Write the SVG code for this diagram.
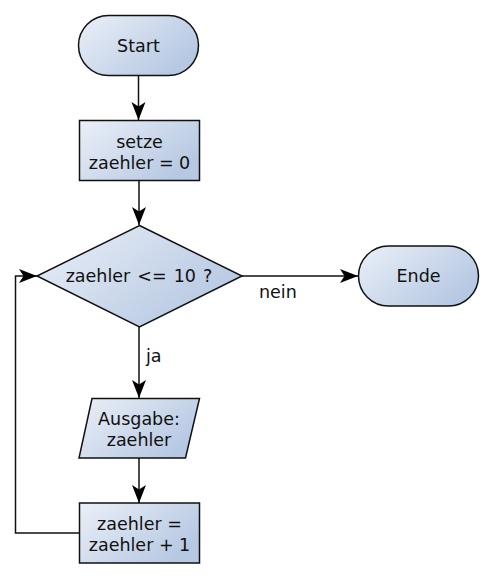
<svg xmlns="http://www.w3.org/2000/svg" width="493" height="579" viewBox="0 0 493 579">
<style>
.shape{fill:url(#g);stroke:#111;stroke-width:1.5}
.t{font-family:"DejaVu Sans",sans-serif;font-size:17.5px;fill:#111;text-anchor:middle}
.l{font-family:"DejaVu Sans",sans-serif;font-size:17.5px;fill:#111}
.c{fill:none;stroke:#111;stroke-width:1.5}
</style>
<defs>
<linearGradient id="g" x1="0" y1="0" x2="1" y2="0.6">
<stop offset="0" stop-color="#ebf0f8"/>
<stop offset="1" stop-color="#b6c8e2"/>
</linearGradient>
<marker id="a" markerUnits="userSpaceOnUse" markerWidth="20" markerHeight="16" viewBox="-19 -8 20 16" refX="0" refY="0" orient="auto">
<path d="M0,0 L-18,-7 L-13.5,0 L-18,7 Z" fill="#000"/>
</marker>
</defs>
<rect width="493" height="579" fill="#fff"/>
<g id="connectors">
<line class="c" x1="138.5" y1="75" x2="138.5" y2="120" marker-end="url(#a)"/>
<line class="c" x1="139" y1="180" x2="139" y2="225" marker-end="url(#a)"/>
<line class="c" x1="242" y1="276" x2="358" y2="276" marker-end="url(#a)"/>
<line class="c" x1="139" y1="327" x2="139" y2="398" marker-end="url(#a)"/>
<line class="c" x1="139" y1="458" x2="139" y2="503" marker-end="url(#a)"/>
<path class="c" d="M80,533 H15.5 V276 H37" marker-end="url(#a)"/>
<text class="l" x="259" y="298">nein</text>
<text class="l" x="146" y="362">ja</text>
</g>
<g id="start">
<rect class="shape" x="78.5" y="15.5" width="120" height="60" rx="30" ry="30"/>
<text class="t" x="138.5" y="51.5">Start</text>
</g>
<g id="init">
<rect class="shape" x="79.5" y="120.5" width="120" height="60"/>
<text class="t" x="139.5" y="148">setze</text>
<text class="t" x="139.5" y="168.5">zaehler = 0</text>
</g>
<g id="decision">
<polygon class="shape" points="139.5,225.5 242,276 139.5,327 37,276"/>
<text class="t" x="139" y="282" word-spacing="1.5">zaehler &lt;= 10 ?</text>
</g>
<g id="ende">
<rect class="shape" x="358.5" y="246" width="120" height="60" rx="30" ry="30"/>
<text class="t" x="418.5" y="282">Ende</text>
</g>
<g id="ausgabe">
<polygon class="shape" points="92,398.5 199.5,398.5 185.5,458 79,458"/>
<text class="t" x="139" y="425">Ausgabe:</text>
<text class="t" x="139" y="445.5">zaehler</text>
</g>
<g id="increment">
<rect class="shape" x="79.5" y="503" width="120" height="60"/>
<text class="t" x="139.5" y="530">zaehler =</text>
<text class="t" x="139.5" y="551">zaehler + 1</text>
</g>
</svg>
